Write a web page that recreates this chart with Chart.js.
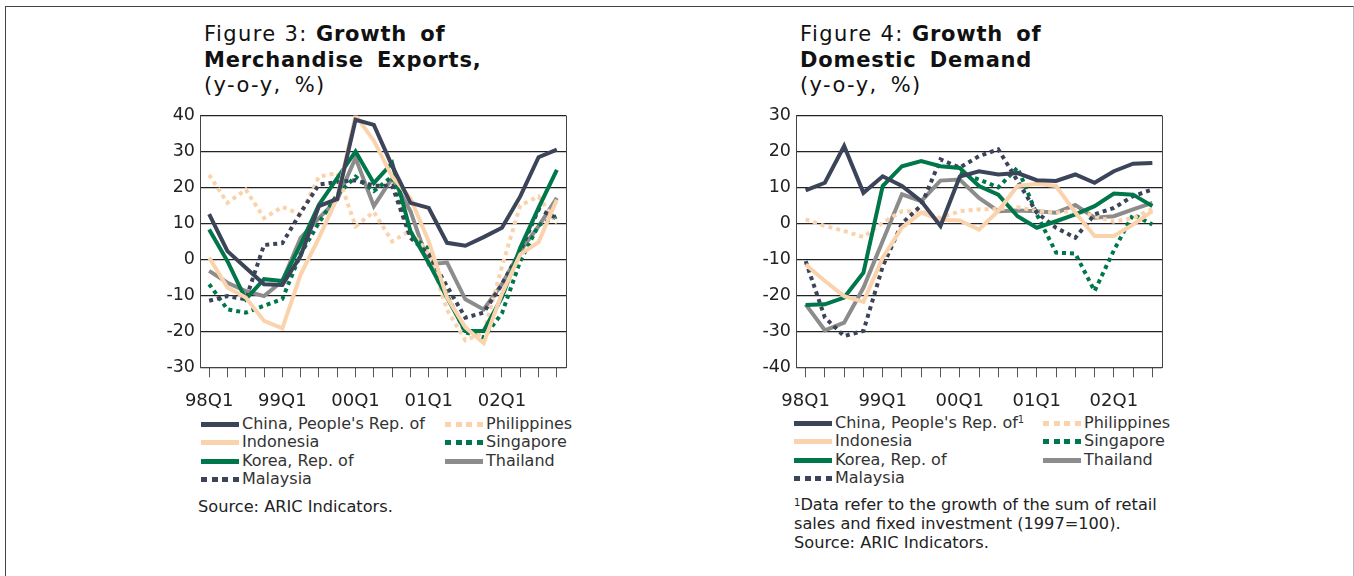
<!DOCTYPE html>
<html>
<head>
<meta charset="utf-8">
<script src="https://cdn.jsdelivr.net/npm/chart.js@4.4.1/dist/chart.umd.min.js"></script>
<style>
  body { margin: 0; background: #fff; font-family: "DejaVu Sans", Verdana, sans-serif; color: #222; }
  #page { position: relative; width: 1354px; height: 576px; overflow: hidden; }
  #frame { position: absolute; left: 5px; top: 6px; width: 1347px; height: 620px; border: 1px solid #444; border-bottom: none; border-right-color: #bbb; }
  .title { position: absolute; font-size: 21px; line-height: 25.5px; color: #111; letter-spacing: 1.4px; white-space: nowrap; }
  .title b { letter-spacing: 0.8px; word-spacing: 5px; }
  .title .unit { word-spacing: 5px; }
  canvas { position: absolute; }
  .legend { position: absolute; font-size: 16px; line-height: 18.3px; color: #333; }
  .legend .item { position: absolute; white-space: nowrap; }
  .legend .sw { position: absolute; left: 0; top: 7px; width: 38px; height: 5px; }
  .legend .txt { position: absolute; left: 41px; top: 0; height: 18.3px; }
  .legend sup { font-size: 10px; line-height: 0; vertical-align: 5px; }
  .note { position: absolute; font-size: 16.2px; line-height: 18.8px; color: #222; white-space: nowrap; }
  .note sup { font-size: 10px; line-height: 0; vertical-align: 4px; }
</style>
</head>
<body>
<div id="page">
  <div id="frame"></div>

  <div class="title" style="left:204px; top:22px;">Figure 3: <b>Growth of<br>Merchandise Exports,</b><br><span class="unit">(y-o-y, %)</span></div>
  <canvas id="exportsChart" width="430" height="310" style="left:150px; top:100px;"></canvas>
  <div class="legend" id="exportsLegend" style="left:201px; top:415px;"></div>
  <div class="note" style="left:198px; top:498px;">Source: ARIC Indicators.</div>

  <div class="title" style="left:800px; top:22px;">Figure 4: <b>Growth of<br>Domestic Demand</b><br><span class="unit">(y-o-y, %)</span></div>
  <canvas id="demandChart" width="430" height="310" style="left:750px; top:100px;"></canvas>
  <div class="legend" id="demandLegend" style="left:794px; top:414px;"></div>
  <div class="note" style="left:794px; top:496px;"><sup>1</sup>Data refer to the growth of the sum of retail<br>sales and fixed investment (1997=100).<br>Source: ARIC Indicators.</div>
</div>

<script>
'use strict';

// ---------- Figure 3 data: merchandise exports, y-o-y % ----------
var quartersExports = ['98Q1','98Q2','98Q3','98Q4','99Q1','99Q2','99Q3','99Q4',
                       '00Q1','00Q2','00Q3','00Q4','01Q1','01Q2','01Q3','01Q4',
                       '02Q1','02Q2','02Q3','02Q4'];
var chinaExports       = [12.6, 2.3, -2.3, -6.9, -7.1, 1, 14.8, 16.8, 38.8, 37.4, 26, 15.7, 14.3, 4.6, 3.8, 6.2, 8.8, 17.5, 28.4, 30.5];
var indonesiaExports   = [0.5, -7.8, -10.6, -17.1, -19.2, -4.2, 6, 17.1, 40, 33, 23, 17, 5, -10.6, -18.9, -23.3, -9.5, 1.4, 4.8, 16.6];
var koreaExports       = [8.3, -0.5, -11.1, -5.5, -6, 4.2, 15.2, 22.6, 30, 21.2, 26.8, 7.8, -1, -10.6, -19.9, -19.9, -10.6, 3.2, 14.3, 24.9];
var malaysiaExports    = [-11.5, -10.2, -11.1, 4, 4.5, 13, 20.8, 21.5, 22, 20.5, 20.5, 6, 1.4, -7.5, -16.2, -14.8, -6.9, 2.3, 13.9, 11.5];
var philippinesExports = [23.5, 15.7, 19.4, 11.5, 14.6, 12.5, 23, 24, 9.2, 13.2, 5, 8, 1.5, -14, -22.5, -20.5, -2, 15, 17.5, 10];
var singaporeExports   = [-6.9, -13.9, -14.8, -12.9, -11, 1.5, 10.2, 18, 23, 19, 23, 6.5, 3, -10, -20.3, -21.7, -15, -0.5, 9.5, 12];
var thailandExports    = [-3.2, -6.5, -8.8, -10.2, -6, 6, 11.5, 16.6, 28.2, 14.8, 22.6, 13.4, -1.4, -0.9, -11.1, -13.9, -6.9, 2.3, 9.2, 17.1];
var ticksExports = [-30, -20, -10, 0, 10, 20, 30, 40];

// ---------- Figure 4 data: domestic demand, y-o-y % ----------
var quartersDemand = ['98Q1','98Q2','98Q3','98Q4','99Q1','99Q2','99Q3','99Q4',
                      '00Q1','00Q2','00Q3','00Q4','01Q1','01Q2','01Q3','01Q4',
                      '02Q1','02Q2','02Q3'];
var chinaDemand       = [9.2, 11.3, 21.5, 8.5, 13.1, 10.4, 6.2, -0.7, 13, 14.5, 13.6, 14, 12, 11.8, 13.6, 11.3, 14.5, 16.6, 16.8];
var indonesiaDemand   = [-11.4, -16, -20.2, -21.8, -9.5, -1.2, 3, 1, 0.8, -1.7, 3.5, 10.4, 11, 10.4, 3, -3.5, -3.5, -0.3, 3.4];
var koreaDemand       = [-22.7, -22.5, -20.6, -13.7, 10.4, 15.9, 17.3, 15.9, 15.4, 10.4, 8, 2, -1.2, 0.6, 2.5, 4.8, 8.3, 8, 4.8];
var malaysiaDemand    = [-10.5, -26.2, -31.3, -29.9, -12, 0, 5, 17.8, 15.5, 18.7, 20.6, 11.8, 3, -1.2, -4, 2.5, 4.3, 7.6, 9.4];
var philippinesDemand = [1.1, -0.7, -2.1, -3.8, 0.2, 3.4, 3.4, 1.5, 3.4, 3.9, 4, 4.5, 3.5, 3, 3.5, 2, 0.5, 1.5, 4];
var singaporeDemand   = [null, null, null, null, null, null, null, null, 14, 12.2, 10, 15.5, 2.5, -8.1, -8.4, -18.8, -7.5, 2.5, -0.3];
var thailandDemand    = [-22.5, -29.7, -27.6, -17.9, -4.9, 8.1, 6.2, 11.9, 12.2, 7.1, 3.4, 3.6, 3.4, 3, 5.1, 1.6, 2, 3.9, 5.7];
var ticksDemand = [-40, -30, -20, -10, 0, 10, 20, 30];

// series look, shared by both figures
var seriesNames  = ["China, People's Rep. of", 'Indonesia', 'Korea, Rep. of', 'Malaysia', 'Philippines', 'Singapore', 'Thailand'];
var seriesColors = ['#3c4459', '#fad3ad', '#00774a', '#3c4459', '#fad3ad', '#00774a', '#8c8c8c'];
var seriesDotted = [false, false, false, true, true, true, false];

var fontFamily = '"DejaVu Sans", Verdana, sans-serif';

function buildDatasets(valueLists){
    return valueLists.map(function(values, i){
        return {
            label: seriesNames[i],
            data: values,
            borderColor: seriesColors[i],
            backgroundColor: seriesColors[i],
            borderWidth: 4,
            borderDash: seriesDotted[i] ? [4, 4] : [],
            borderCapStyle: 'butt',
            borderJoinStyle: 'miter',
            pointRadius: 0,
            tension: 0,
            spanGaps: false
        };
    });
}

//right edge of the plot box
var plotBox = {
    id: 'plotBox',
    afterDraw: function(chart){
        var a = chart.chartArea, ctx = chart.ctx;
        ctx.save();
        ctx.strokeStyle = '#444';
        ctx.lineWidth = 1;
        ctx.beginPath();
        ctx.moveTo(Math.round(a.right) + 0.5, a.top);
        ctx.lineTo(Math.round(a.right) + 0.5, a.bottom);
        ctx.stroke();
        ctx.restore();
    }
};

function makeChart(canvasId, labels, valueLists, yTicks, yWidth, rightPad){
    var ctx = document.getElementById(canvasId).getContext('2d');
    return new Chart(ctx, {
        type: 'line',
        data: { labels: labels, datasets: buildDatasets(valueLists) },
        plugins: [plotBox],
        options: {
            responsive: false,
            animation: false,
            devicePixelRatio: 1,
            layout: { padding: { top: 14.7, right: rightPad, bottom: 0, left: 0 } },
            plugins: { legend: { display: false }, tooltip: { enabled: false } },
            scales: {
                x: {
                    type: 'category',
                    offset: true,
                    afterFit: function(scale){ scale.height = 42.7; },
                    grid: { display: true, drawOnChartArea: false, drawTicks: true, tickLength: 10, color: '#555', lineWidth: 1 },
                    border: { display: true, color: '#444', width: 1 },
                    ticks: {
                        autoSkip: false, maxRotation: 0, minRotation: 0, padding: 13,
                        color: '#222', font: { family: fontFamily, size: 18 },
                        callback: function(value, index){ return index % 4 === 0 ? this.getLabelForValue(value) : ''; }
                    }
                },
                y: {
                    min: yTicks[0],
                    max: yTicks[yTicks.length - 1],
                    afterFit: function(scale){ scale.width = yWidth; },
                    afterBuildTicks: function(scale){ scale.ticks = yTicks.map(function(v){ return { value: v }; }); },
                    grid: { color: '#222', lineWidth: 1.2, drawTicks: false },
                    border: { display: true, color: '#444', width: 1 },
                    ticks: { padding: 5, color: '#222', font: { family: fontFamily, size: 17.5 } }
                }
            }
        }
    });
}

function buildLegend(elId, col2Left, footMark){
    var box = document.getElementById(elId);
    seriesNames.forEach(function(name, i){
        var col = i < 4 ? 0 : 1;
        var row = i < 4 ? i : i - 4;
        var item = document.createElement('div');
        item.className = 'item';
        item.style.left = (col * col2Left) + 'px';
        item.style.top = (row * 18.3) + 'px';
        var sw = document.createElement('div');
        sw.className = 'sw';
        if(seriesDotted[i]){
            sw.style.background = 'repeating-linear-gradient(to right,' + seriesColors[i] + ' 0 6px, transparent 6px 10.7px)';
        } else {
            sw.style.background = seriesColors[i];
        }
        var txt = document.createElement('div');
        txt.className = 'txt';
        txt.innerHTML = name + (i === 0 && footMark ? '<sup>1</sup>' : '');
        item.appendChild(sw);
        item.appendChild(txt);
        box.appendChild(item);
    });
}

makeChart('exportsChart', quartersExports,
    [chinaExports, indonesiaExports, koreaExports, malaysiaExports, philippinesExports, singaporeExports, thailandExports],
    ticksExports, 50, 14);
makeChart('demandChart', quartersDemand,
    [chinaDemand, indonesiaDemand, koreaDemand, malaysiaDemand, philippinesDemand, singaporeDemand, thailandDemand],
    ticksDemand, 46, 18);

buildLegend('exportsLegend', 244, false);
buildLegend('demandLegend', 249, true);
</script>
</body>
</html>
